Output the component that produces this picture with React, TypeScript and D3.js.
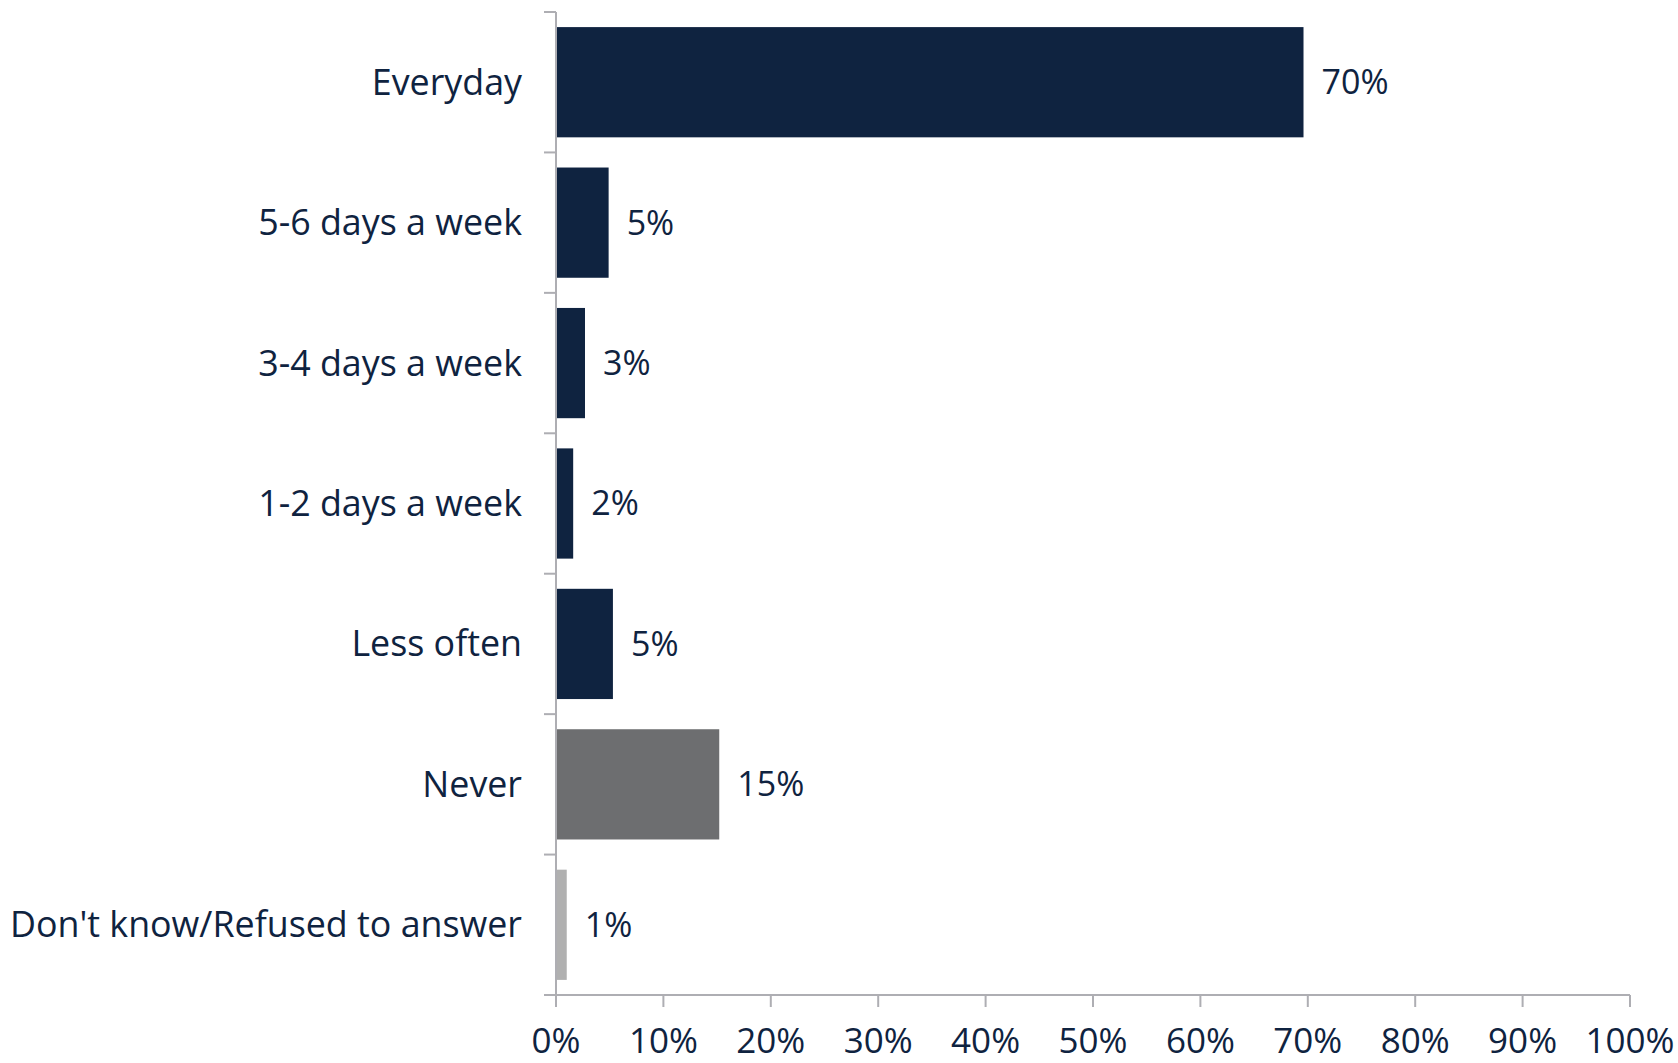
import React from "react";
import * as d3 from "d3";

const categories = [
  "Everyday",
  "5-6 days a week",
  "3-4 days a week",
  "1-2 days a week",
  "Less often",
  "Never",
  "Don't know/Refused to answer",
];
const values = [69.6, 4.9, 2.7, 1.6, 5.3, 15.2, 1.0];
const barColors = ["#0f2340", "#0f2340", "#0f2340", "#0f2340", "#0f2340", "#6d6e70", "#b0b0b0"];
const xTicks = [0, 10, 20, 30, 40, 50, 60, 70, 80, 90, 100];

const W = 1678;
const H = 1063;
const M = { left: 556, right: 48, top: 12, bottom: 68 };
const TEXT = "#0f2340";
const AXIS = "#aeaeb3";
const FONT = "'Open Sans', sans-serif";

export default function App() {
  const x = d3.scaleLinear().domain([0, 100]).range([M.left, W - M.right]);
  const y = d3
    .scaleBand<string>()
    .domain(categories)
    .range([M.top, H - M.bottom])
    .paddingInner(0.215)
    .paddingOuter(0.1075);
  const step = y.step();
  const bw = y.bandwidth();
  const boundaries = d3.range(categories.length + 1).map((i) => M.top + i * step);
  const y0 = H - M.bottom;

  return (
    <svg
      width={W}
      height={H}
      style={{ position: "absolute", left: 0, top: 0, background: "#fff" }}
      fontFamily={FONT}
    >
      {categories.map((c, i) => (
        <g key={c}>
          <rect x={x(0)} y={y(c)} width={x(values[i]) - x(0)} height={bw} fill={barColors[i]} />
          <text
            x={x(values[i]) + 18}
            y={(y(c) as number) + bw / 2}
            dy="0.35em"
            fontSize={34}
            fill={TEXT}
          >
            {Math.round(values[i])}%
          </text>
          <text
            x={522}
            y={(y(c) as number) + bw / 2}
            dy="0.35em"
            textAnchor="end"
            fontSize={35.8}
            fill={TEXT}
          >
            {c}
          </text>
        </g>
      ))}
      <line x1={x(0)} x2={x(0)} y1={M.top} y2={y0} stroke={AXIS} strokeWidth={2} />
      {boundaries.map((b, i) => (
        <line key={i} x1={x(0) - 12} x2={x(0)} y1={b} y2={b} stroke={AXIS} strokeWidth={2} />
      ))}
      <line x1={x(0) - 12} x2={x(100)} y1={y0} y2={y0} stroke={AXIS} strokeWidth={2} />
      {xTicks.map((t) => (
        <g key={t}>
          <line x1={x(t)} x2={x(t)} y1={y0} y2={y0 + 12} stroke={AXIS} strokeWidth={2} />
          <text x={x(t)} y={y0 + 46} dy="0.35em" textAnchor="middle" fontSize={35} fill={TEXT}>
            {t}%
          </text>
        </g>
      ))}
    </svg>
  );
}
